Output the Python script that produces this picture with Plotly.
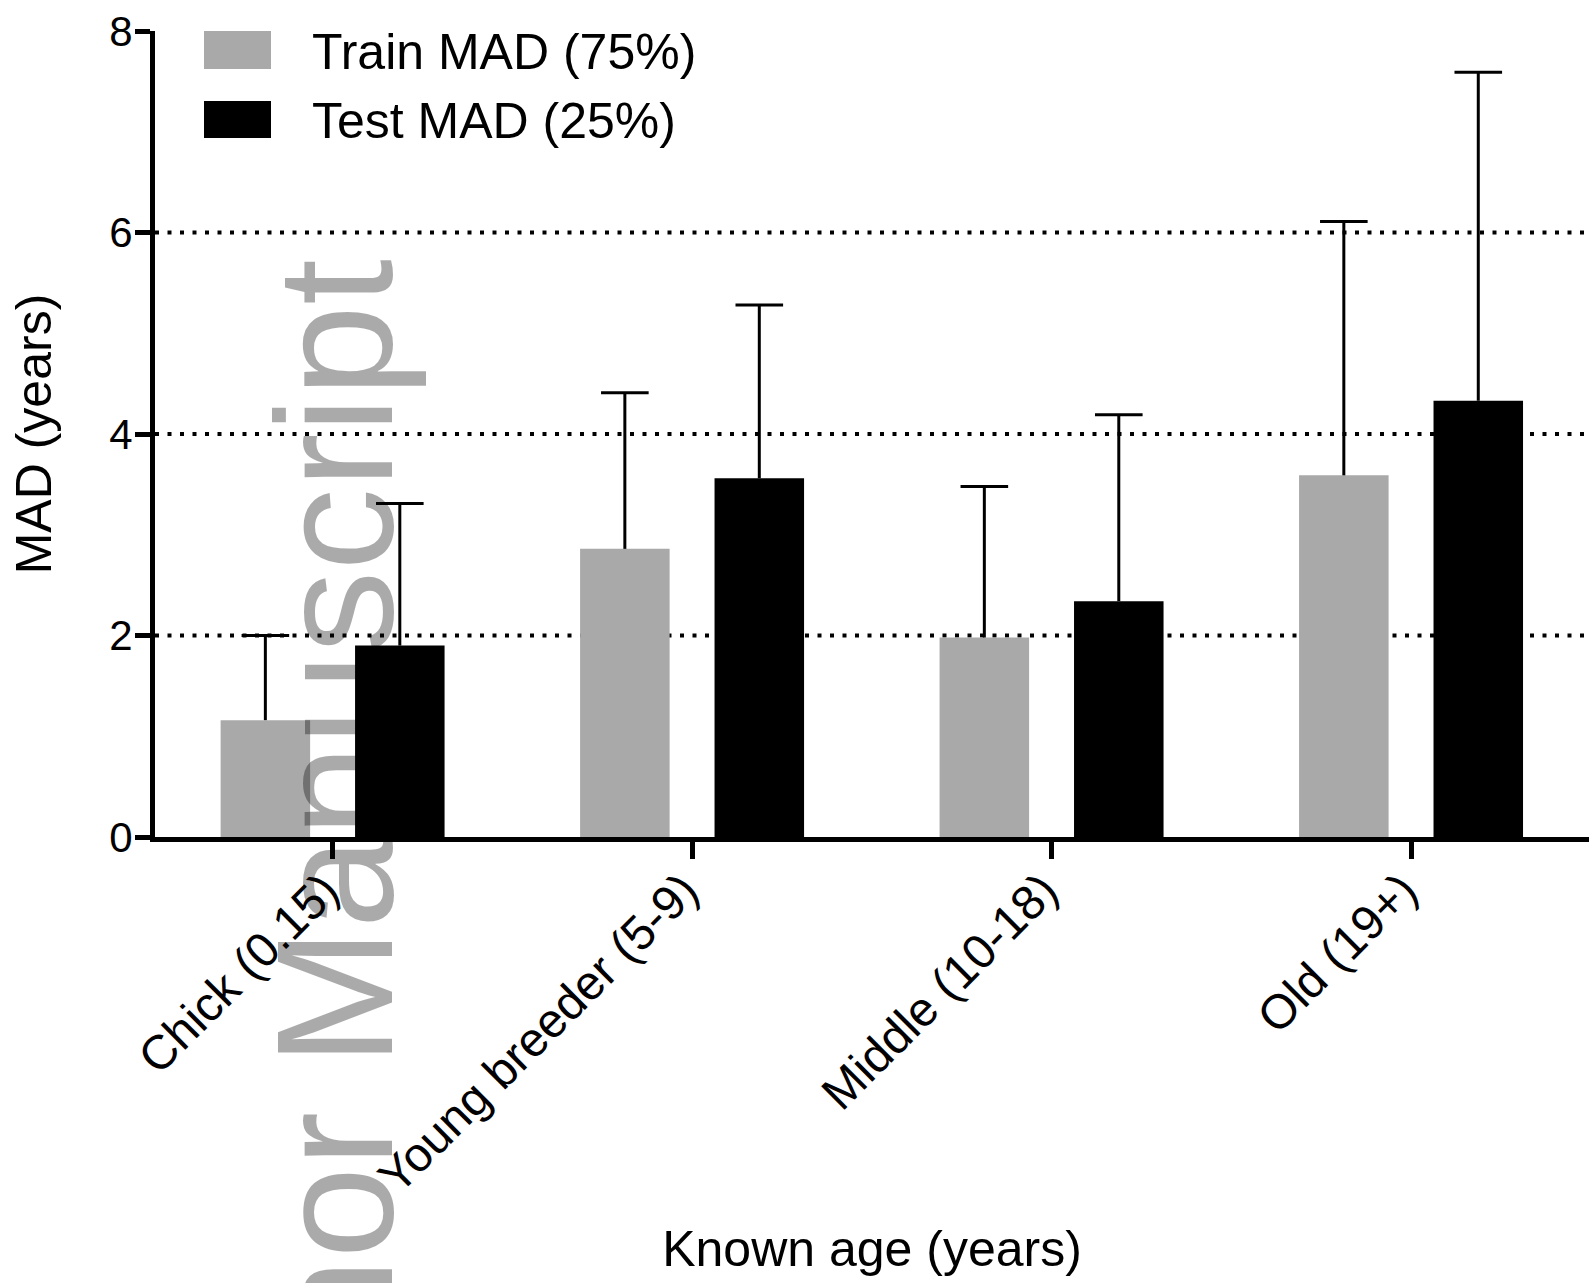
import numpy as np
import plotly.graph_objects as go

# ---- data -------------------------------------------------------------
categories = ["Chick (0.15)", "Young breeder (5-9)", "Middle (10-18)", "Old (19+)"]
train_name = "Train MAD (75%)"
test_name = "Test MAD (25%)"
train_mad = [1.16, 2.86, 1.98, 3.59]
train_sd = [0.84, 1.55, 1.50, 2.52]
test_mad = [1.90, 3.56, 2.34, 4.33]
test_sd = [1.41, 1.72, 1.85, 3.26]
y_ticks = [0, 2, 4, 6, 8]
grid_vals = [2, 4, 6]

# ---- styling ----------------------------------------------------------
GREY = "#a9a9a9"
BLACK = "#000000"
FONT = "Liberation Sans, Arial, Helvetica, sans-serif"
W, H = 1592, 1283
ML, MR, MT, MB = 155, 3, 31, 446
PW, PH = W - ML - MR, H - MT - MB
PB = H - MB  # pixel row of the x axis


def px_x(p):
    return (p - ML) / PW


def px_y(p):
    return (PB - p) / PH


idx = np.arange(len(categories))
offset = 0.187
bar_w = 0.249

fig = go.Figure()

for vals, sd, color, name, shift in [
    (train_mad, train_sd, GREY, train_name, -offset),
    (test_mad, test_sd, BLACK, test_name, offset),
]:
    xs = idx + shift
    # bar with an upper-only error whisker (no end caps on the whisker itself)
    fig.add_trace(go.Bar(
        x=xs, y=vals, width=bar_w, name=name, showlegend=False,
        marker=dict(color=color, line=dict(width=0)),
        error_y=dict(type="data", symmetric=False, array=sd,
                     arrayminus=[0] * len(sd), color=BLACK,
                     thickness=3, width=0),
    ))
    # horizontal cap at the top of each whisker
    fig.add_trace(go.Scatter(
        x=xs, y=np.add(vals, sd), mode="markers", showlegend=False,
        hoverinfo="skip", cliponaxis=False,
        marker=dict(symbol="line-ew", size=34,
                    line=dict(width=3, color=BLACK)),
    ))

# dotted reference lines
shapes = [
    dict(type="line", xref="paper", x0=0, x1=1, yref="y", y0=v, y1=v,
         line=dict(color=BLACK, width=4, dash="4px,8.5px"), layer="below")
    for v in grid_vals
]

# legend drawn as swatches + labels
legend_rows = [(train_name, GREY, 31, 69, 52), (test_name, BLACK, 101, 138, 121)]
annotations = []
for name, color, top, bottom, mid in legend_rows:
    shapes.append(dict(type="rect", xref="paper", yref="paper",
                       x0=px_x(204), x1=px_x(271), y0=px_y(bottom), y1=px_y(top),
                       fillcolor=color, line=dict(width=0)))
    annotations.append(dict(text=name, xref="paper", yref="paper",
                            x=px_x(310), y=px_y(mid), xanchor="left",
                            yanchor="middle", showarrow=False,
                            font=dict(size=50, color=BLACK, family=FONT)))

# vertical watermark
annotations.append(dict(text="Author Manuscript", xref="paper", yref="paper",
                        x=px_x(335), y=px_y(929), xanchor="center",
                        yanchor="middle", textangle=-90, showarrow=False,
                        font=dict(size=165, color="rgba(0,0,0,0.335)",
                                  family=FONT)))

fig.update_layout(
    template="none",
    width=W, height=H, autosize=False,
    margin=dict(l=ML, r=MR, t=MT, b=MB, pad=0),
    paper_bgcolor="white", plot_bgcolor="white",
    font=dict(family=FONT, color=BLACK),
    shapes=shapes, annotations=annotations,
    showlegend=False,
    xaxis=dict(
        range=[-0.494, 3.495], tickmode="array", tickvals=idx,
        ticktext=categories, tickangle=-45,
        ticks="outside", ticklen=17, tickwidth=5, tickcolor=BLACK,
        ticklabelstandoff=-16, ticklabelshift=-8,
        showline=True, linewidth=5, linecolor=BLACK,
        showgrid=False, zeroline=False,
        tickfont=dict(size=48, family=FONT, color=BLACK),
        title=dict(text="Known age (years)", standoff=30,
                   font=dict(size=50, family=FONT, color=BLACK)),
    ),
    yaxis=dict(
        range=[0, 8], tickmode="array", tickvals=y_ticks,
        ticks="outside", ticklen=15, tickwidth=5, tickcolor=BLACK,
        ticklabelstandoff=-6,
        showline=True, linewidth=5, linecolor=BLACK,
        showgrid=False, zeroline=False,
        tickfont=dict(size=42, family=FONT, color=BLACK),
        title=dict(text="MAD (years)", standoff=43,
                   font=dict(size=50, family=FONT, color=BLACK)),
    ),
)

fig.write_html("out.html")
